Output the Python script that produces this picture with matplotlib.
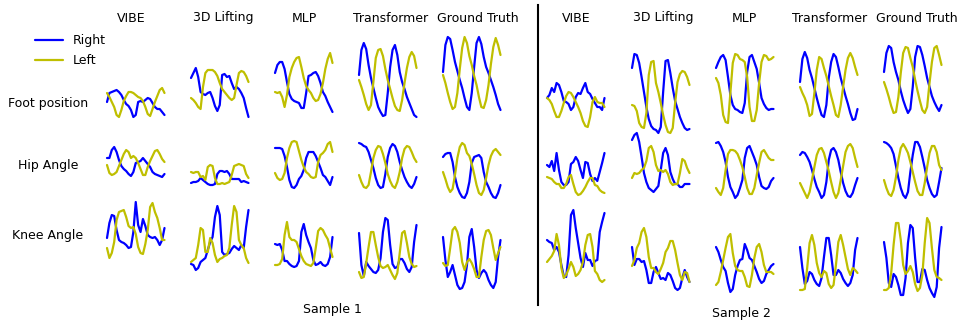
import numpy as np
import matplotlib.pyplot as plt
from matplotlib.lines import Line2D

methods = ['VIBE', '3D Lifting', 'MLP', 'Transformer', 'Ground Truth']
row_names = ['Foot position', 'Hip Angle', 'Knee Angle']

# ---- Sample 1 (one list per method: VIBE, 3D Lifting, MLP, Transformer, GT) ----
s1_foot_right = [
    [38,47,48,49,50,48,45,40,36,34,30,23,25,38,39,38,40,42,41,37,33,31,31,28,25],
    [62,67,72,63,48,46,45,47,48,42,34,29,35,65,66,63,64,57,51,53,51,47,42,32,23],
    [67,75,78,78,71,58,46,41,39,38,37,32,32,47,64,65,67,68,64,57,48,44,38,33,28],
    [65,90,97,91,75,62,52,42,33,28,24,25,47,73,90,95,85,68,58,51,43,37,31,25,23],
    [68,95,103,101,90,78,69,60,52,42,33,30,47,73,97,103,96,83,73,67,60,53,45,36,30],
]
s1_foot_left = [
    [47,43,38,33,25,23,30,39,44,48,48,47,45,43,42,39,33,26,24,31,38,44,50,52,47],
    [42,40,37,33,31,53,67,70,70,70,68,64,57,51,48,45,42,40,42,55,67,69,68,64,58],
    [48,47,48,43,33,45,63,72,78,82,83,73,62,54,50,47,42,39,40,46,57,71,81,87,77],
    [60,53,45,36,30,35,58,82,90,91,84,71,60,51,42,34,30,29,40,57,72,83,88,84,72],
    [65,57,47,38,31,33,47,71,92,103,97,84,75,64,55,43,33,32,40,55,76,93,102,95,85],
]
s1_hip_right = [
    [47,47,55,58,53,45,39,36,34,31,29,33,42,43,44,47,44,41,38,33,31,30,29,28,31],
    [22,23,23,24,27,25,23,21,20,20,21,31,34,34,33,34,31,26,26,26,26,23,24,23,22],
    [57,57,57,56,49,38,25,18,17,20,26,29,35,47,53,53,53,49,43,37,30,28,24,20,28],
    [62,61,59,58,53,45,37,27,20,17,18,31,48,57,61,59,53,43,35,28,23,19,17,21,28],
    [48,51,52,52,43,28,18,12,8,7,12,23,42,48,49,50,47,33,23,18,12,8,7,12,20],
]
s1_hip_left = [
    [40,32,30,31,33,39,45,51,55,53,47,49,47,42,36,30,30,38,44,49,54,55,51,46,43],
    [33,32,33,33,28,29,25,38,40,39,27,21,21,22,21,22,23,30,39,40,41,40,39,31,27],
    [32,27,25,26,32,47,57,63,64,63,54,45,38,33,31,28,27,28,43,50,52,55,61,63,53],
    [30,23,18,17,20,33,47,55,59,58,51,42,31,24,19,17,23,33,47,56,59,58,53,47,43],
    [33,26,18,13,16,30,47,58,62,60,52,49,41,31,20,12,10,15,27,40,49,54,56,53,50],
]
s1_knee_right = [
    [67,82,90,89,75,65,63,62,60,57,58,73,103,80,73,86,79,70,68,67,68,65,60,65,77],
    [41,40,35,37,43,45,47,55,63,68,88,99,90,53,50,51,52,56,59,57,55,60,57,78,95],
    [61,60,61,55,44,44,41,39,38,39,44,73,81,70,63,57,45,40,41,43,40,39,41,48,68],
    [72,40,29,43,39,36,33,32,35,47,73,87,85,60,41,37,38,46,46,42,36,33,38,63,80],
    [68,45,28,33,40,30,20,16,17,23,40,68,76,58,35,27,32,35,32,25,20,17,23,48,65],
]
s1_knee_left = [
    [57,47,52,63,85,93,94,95,88,79,77,78,71,58,52,51,61,75,98,102,93,87,77,65,65],
    [43,45,47,60,77,75,53,53,67,62,50,43,46,47,49,50,57,80,99,93,65,60,57,47,42],
    [40,40,41,46,70,83,68,65,65,63,56,49,44,41,40,39,42,57,74,77,75,70,66,57,48],
    [33,27,28,42,58,73,73,60,48,39,37,38,40,35,30,26,32,52,72,74,62,48,41,38,39],
    [42,39,40,57,75,78,73,62,43,35,43,46,42,36,28,28,48,65,74,75,70,57,45,52,58],
]

# ---- Sample 2 ----
s2_foot_right = [
    [42,45,52,48,57,55,48,39,38,36,30,33,43,47,46,52,57,48,46,41,37,33,33,30,42],
    [72,86,85,77,63,48,33,21,14,11,10,7,13,48,79,80,67,52,39,31,23,17,12,10,11],
    [72,78,83,85,80,63,45,35,31,30,28,27,37,68,83,85,78,71,57,42,36,32,30,31,31],
    [58,81,88,82,70,62,52,42,33,25,23,35,62,78,86,83,73,62,53,44,36,27,20,21,31],
    [68,87,94,92,78,68,60,49,40,33,27,31,53,83,94,93,85,74,62,53,44,38,33,29,35],
]
s2_foot_left = [
    [42,40,36,29,23,23,29,37,44,48,47,43,38,33,27,19,14,13,23,38,43,38,37,37,33],
    [35,34,29,17,13,12,27,65,78,79,57,48,37,25,15,8,7,12,37,58,66,69,68,63,55],
    [62,57,45,25,18,17,47,77,86,85,81,80,78,63,33,19,19,30,57,78,85,84,80,81,83],
    [53,47,42,35,24,26,47,70,83,81,72,64,54,44,35,25,23,35,53,70,82,87,82,73,65],
    [58,51,43,34,27,28,43,67,87,93,92,82,73,60,49,39,30,27,33,57,78,92,94,85,75],
]
s2_hip_right = [
    [40,38,44,34,52,35,23,20,20,23,41,43,48,44,35,27,43,42,31,24,27,24,33,42,52],
    [65,70,72,63,48,32,23,17,15,13,16,19,35,52,57,50,33,26,21,21,18,18,21,21,21],
    [62,63,59,53,43,28,18,13,7,10,17,25,47,57,59,53,47,40,28,19,17,16,18,24,27],
    [50,53,52,48,43,35,26,18,13,7,10,23,45,55,57,53,45,33,22,14,9,8,12,20,27],
    [63,62,60,57,51,39,27,17,10,7,13,33,50,63,63,58,48,37,25,17,11,8,10,23,37],
]
s2_hip_left = [
    [28,27,26,23,21,21,17,17,21,28,30,21,13,10,11,14,18,23,27,27,20,19,15,13,12],
    [27,32,31,32,35,37,44,57,59,53,40,34,35,33,35,31,23,20,21,21,32,46,44,37,32],
    [17,13,10,17,35,51,55,55,54,51,45,38,28,17,11,11,17,30,42,53,55,51,47,45,45],
    [22,17,12,7,13,25,38,50,56,57,52,43,34,23,13,7,12,25,39,53,59,61,57,47,38],
    [25,17,11,9,15,28,45,57,61,57,52,43,33,23,14,10,10,22,38,52,59,59,53,40,35],
]
s2_knee_right = [
    [65,63,62,55,58,53,40,29,28,50,90,95,77,62,47,38,52,45,45,39,44,45,73,83,92],
    [58,40,46,46,43,44,35,22,22,33,38,32,26,27,25,32,30,24,17,15,17,27,35,28,23],
    [58,53,45,38,34,22,13,16,30,39,45,46,61,55,47,45,39,33,26,22,24,31,35,39,41],
    [58,37,21,24,33,31,25,21,19,27,48,67,67,50,30,30,35,32,26,22,19,22,30,55,67],
    [63,47,22,18,31,28,20,10,10,27,62,80,77,47,23,23,36,35,25,17,12,8,18,57,78],
]
s2_knee_left = [
    [43,46,49,54,71,60,37,27,30,36,43,38,29,31,35,43,60,70,71,58,34,31,25,23,25],
    [39,45,57,62,73,77,68,48,37,37,33,31,36,42,53,57,64,64,55,42,30,25,33,32,23],
    [20,23,33,45,57,68,71,52,39,35,34,34,28,19,18,30,47,58,61,53,40,33,33,33,31],
    [15,15,16,37,62,70,60,42,32,28,34,32,21,17,20,40,63,70,60,48,36,30,37,35,32],
    [15,15,17,32,60,82,82,65,40,31,34,39,33,21,14,17,30,62,87,82,57,35,28,27,25],
]

samples = [
    ([(s1_foot_right, s1_foot_left), (s1_hip_right, s1_hip_left), (s1_knee_right, s1_knee_left)],
     [107, 191, 275, 359, 443], [131, 223, 304, 391, 478]),
    ([(s2_foot_right, s2_foot_left), (s2_hip_right, s2_hip_left), (s2_knee_right, s2_knee_left)],
     [547, 632, 716, 800, 884], [576, 663, 744, 830, 917]),
]

BLUE = '#0000ff'
YELLOW = '#bfbf00'
W, H = 960, 322
cell_w = 57.5
row_base = [140, 205, 305]   # bottom of each row band (px from top)
row_span = [110, 80, 110]

fig = plt.figure(figsize=(9.6, 3.22), dpi=100)

line_kw = dict(lw=1.6, clip_on=False, solid_joinstyle='round', solid_capstyle='round')
handles = None
for rows, lefts, title_x in samples:
    for r, (rights, lefts_) in enumerate(rows):
        for c in range(5):
            ax = fig.add_axes([lefts[c] / W, (H - row_base[r]) / H, cell_w / W, row_span[r] / H])
            yr = rights[c]
            yl = lefts_[c]
            l1, = ax.plot(np.linspace(0, 1, len(yr)), yr, color=BLUE, **line_kw)
            l2, = ax.plot(np.linspace(0, 1, len(yl)), yl, color=YELLOW, **line_kw)
            ax.set_xlim(0, 1)
            ax.set_ylim(0, row_span[r])
            ax.axis('off')
            if handles is None:
                handles = [l1, l2]
    # column titles
    for c, m in enumerate(methods):
        fig.text(title_x[c] / W, 1 - 18 / H, m, ha='center', va='center', fontsize=9)

# row labels
for y, name in zip([104, 165, 236], row_names):
    fig.text(48 / W, 1 - y / H, name, ha='center', va='center', fontsize=9)

fig.text(332 / W, 1 - 309 / H, 'Sample 1', ha='center', va='center', fontsize=9)
fig.text(741 / W, 1 - 314 / H, 'Sample 2', ha='center', va='center', fontsize=9)

# separator between the two samples
fig.add_artist(Line2D([537.5 / W, 537.5 / W], [1 - 5 / H, 1 - 305 / H], color='black', lw=1.5))

fig.legend(handles, ['Right', 'Left'], loc='upper left', bbox_to_anchor=(35 / W, 1 - 34 / H),
           frameon=False, fontsize=9, handlelength=2.2, handletextpad=0.8,
           labelspacing=0.6, borderpad=0, borderaxespad=0)

fig.savefig('out.png', dpi=100)
